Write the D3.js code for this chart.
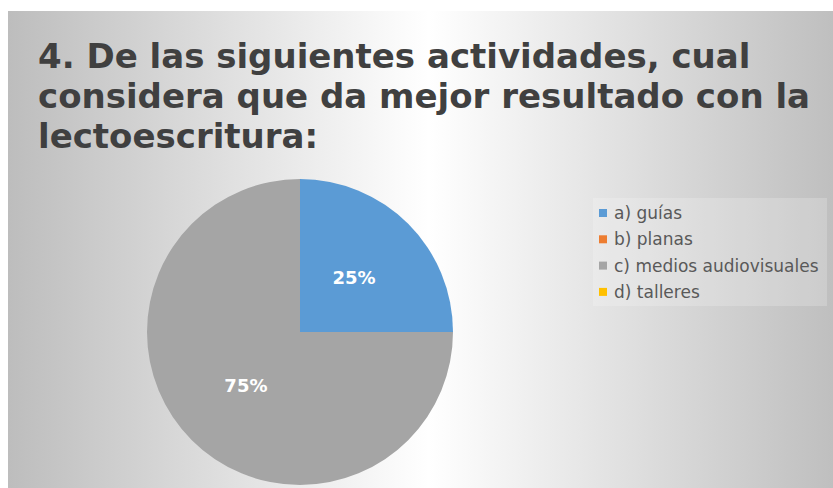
<!DOCTYPE html>
<html>
<head>
<meta charset="utf-8">
<script src="https://cdn.jsdelivr.net/npm/d3@7"></script>
<style>
html,body{margin:0;padding:0;background:#fff;}
svg{display:block;}
</style>
</head>
<body>
<svg id="chart" width="833" height="488"></svg>
<script>
const titleLines = ["4. De las siguientes actividades, cual", "considera que da mejor resultado con la", "lectoescritura:"];
const categories = ["a) guías", "b) planas", "c) medios audiovisuales", "d) talleres"];
const values = [25, 0, 75, 0];
const colors = ["#5b9bd5", "#ed7d31", "#a5a5a5", "#ffc000"];

const svg = d3.select("#chart");
const W = 833, H = 488;

const defs = svg.append("defs");
const grad = defs.append("linearGradient").attr("id", "bg").attr("x1", "0").attr("x2", "1").attr("y1", "0").attr("y2", "0");
grad.append("stop").attr("offset", "0").attr("stop-color", "#bdbdbd");
grad.append("stop").attr("offset", "0.51").attr("stop-color", "#ffffff");
grad.append("stop").attr("offset", "1").attr("stop-color", "#bfbfbf");

svg.append("rect").attr("x", 8).attr("y", 11).attr("width", W - 8).attr("height", H - 11).attr("fill", "url(#bg)");

// Title
const title = svg.append("text")
  .attr("font-family", "DejaVu Sans")
  .attr("font-weight", "bold")
  .attr("font-size", 34)
  .attr("fill", "#404040");
titleLines.forEach((t, i) => {
  title.append("tspan").attr("x", 38).attr("y", 68 + i * 40).text(t);
});

// Pie
const cx = 300, cy = 332, r = 153;
const pie = d3.pie().sort(null).value(d => d.v);
const data = categories.map((c, i) => ({ c, v: values[i], color: colors[i] }));
const arcs = pie(data);
const arc = d3.arc().innerRadius(0).outerRadius(r);
const labelArc = d3.arc().innerRadius(r * 0.5).outerRadius(r * 0.5);
const g = svg.append("g").attr("transform", `translate(${cx},${cy})`);
g.selectAll("path").data(arcs.filter(a => a.data.v > 0)).join("path")
  .attr("d", arc).attr("fill", d => d.data.color);
const total = d3.sum(values);
g.selectAll("text").data(arcs.filter(a => a.data.v > 0)).join("text")
  .attr("transform", d => `translate(${labelArc.centroid(d)})`)
  .attr("text-anchor", "middle")
  .attr("dy", "0.35em")
  .attr("font-family", "DejaVu Sans")
  .attr("font-weight", "bold")
  .attr("font-size", 18)
  .attr("fill", "#ffffff")
  .text(d => Math.round(d.data.v / total * 100) + "%");

// Legend
const lg = svg.append("g");
lg.append("rect").attr("x", 593).attr("y", 198).attr("width", 234).attr("height", 108)
  .attr("fill", "#ffffff").attr("fill-opacity", 0.2);
const y0 = 213, dy = 26.3;
const items = lg.selectAll("g.item").data(data).join("g").attr("class", "item")
  .attr("transform", (d, i) => `translate(599,${y0 + i * dy})`);
items.append("rect").attr("x", 0).attr("y", -4).attr("width", 8).attr("height", 8).attr("fill", d => d.color);
items.append("text").attr("x", 15).attr("y", 0).attr("dy", "0.35em")
  .attr("font-family", "DejaVu Sans").attr("font-size", 17).attr("fill", "#595959")
  .text(d => d.c);
</script>
</body>
</html>
